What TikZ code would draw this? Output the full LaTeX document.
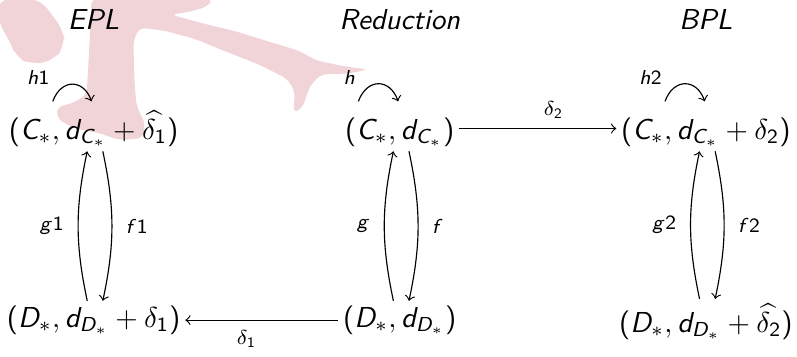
\documentclass[tikz,border=0pt]{standalone}
\usepackage{amsmath}
\usepackage{tikz}
\usetikzlibrary{arrows}

% sans serif letters and digits in the formulas
\DeclareSymbolFont{sfletters}{OT1}{cmss}{m}{sl}
\DeclareSymbolFont{sfdigits}{OT1}{cmss}{m}{n}
\DeclareMathSymbol{C}{\mathalpha}{sfletters}{`C}
\DeclareMathSymbol{D}{\mathalpha}{sfletters}{`D}
\DeclareMathSymbol{d}{\mathalpha}{sfletters}{`d}
\DeclareMathSymbol{f}{\mathalpha}{sfletters}{`f}
\DeclareMathSymbol{g}{\mathalpha}{sfletters}{`g}
\DeclareMathSymbol{h}{\mathalpha}{sfletters}{`h}
\DeclareMathSymbol{1}{\mathalpha}{sfdigits}{`1}
\DeclareMathSymbol{2}{\mathalpha}{sfdigits}{`2}
\DeclareMathSymbol{(}{\mathopen}{sfdigits}{`(}
\DeclareMathSymbol{)}{\mathclose}{sfdigits}{`)}

\definecolor{logopink}{RGB}{240,212,216}

\begin{document}
\begin{tikzpicture}[x=3.729cm,y=2.292cm,
    ttl/.style={font=\sffamily\slshape,anchor=base},
    obj/.style={inner sep=1.5pt,anchor=base},
    hlbl/.style={anchor=south east,inner sep=0pt,xshift=-1pt,yshift=5.5pt}]
  % logo in the background, in pixel units
  \begin{scope}[x=0.345pt,y=-0.345pt,shift={(-94,-328)}]
    \useasboundingbox (0,0) rectangle (797,348);
    \fill[logopink,rounded corners=4pt] (-2,-2) -- (40,-2) -- (52,14)
      -- (64,30) -- (65,45) -- (54,60) -- (32,64) -- (16,57) -- (10,40)
      -- (-2,22) -- cycle;
    \fill[logopink,rounded corners=2pt] (92,-2) -- (214,-2) -- (208,6)
      -- (190,11) -- (172,14) -- (205,23) -- (238,31) -- (270,41)
      -- (300,50) -- (318,60) -- (347,66) -- (370,69) -- (350,73)
      -- (322,74) -- (311,86) -- (304,107) -- (295,113) -- (296,90)
      -- (288,78) -- (260,64) -- (227,51) -- (195,38) -- (165,30)
      -- (140,27) -- (134,40) -- (135,80) -- (137,105) -- (146,124)
      -- (143,138) -- (120,140) -- (100,133) -- (75,128) -- (58,119)
      -- (57,107) -- (75,102) -- (87,94) -- (89,60) -- (91,20) -- cycle;
    \coordinate (h0s) at (53,101);
    \coordinate (h0e) at (92,101);
    \coordinate (h1s) at (360,101);
    \coordinate (h1e) at (400,101);
    \coordinate (h2s) at (668,101);
    \coordinate (h2e) at (708,101);
  \end{scope}
  \node[ttl] (T0) at (0,1.582) {EPL};
  \node[ttl] (T1) at (1,1.582) {Reduction};
  \node[ttl] (T2) at (2,1.582) {BPL};
  \node[obj] (C0) at (0,1) {$(C_*, d_{C_*} + \widehat{\delta_1})$};
  \node[obj] (C1) at (1,1) {$(C_*, d_{C_*})$};
  \node[obj] (C2) at (2,1) {$(C_*, d_{C_*} + \delta_2)$};
  \node[obj] (D0) at (0,0) {$(D_*, d_{D_*} + \delta_1)$};
  \node[obj] (D1) at (1,0) {$(D_*, d_{D_*})$};
  \node[obj] (D2) at (2,-0.026) {$(D_*, d_{D_*} + \widehat{\delta_2})$};
  \path[->,>=to,font=\scriptsize]
    ([yshift=1.2pt]C1.east) edge node[above,pos=0.6]{$\delta_2$} ([yshift=1.2pt]C2.west)
    (D1) edge node[below,pos=0.6]{$\delta_1$} (D0)
    ([xshift=-2.2pt]D0.north) edge[bend left=12] node[left=1.5pt]{$g1$} ([xshift=-2.2pt]C0.south)
    ([xshift=3.2pt]C0.south) edge[bend left=12] node[right=1.3pt]{$f1$} ([xshift=3.2pt]D0.north)
    ([xshift=-2.2pt]D1.north) edge[bend left=12] node[left=1.5pt]{$g$} ([xshift=-2.2pt]C1.south)
    ([xshift=3.2pt]C1.south) edge[bend left=12] node[right=1.3pt]{$f$} ([xshift=3.2pt]D1.north)
    ([xshift=-2.2pt]D2.north) edge[bend left=12] node[left=1.5pt]{$g2$} ([xshift=-2.2pt]C2.south)
    ([xshift=3.2pt]C2.south) edge[bend left=12] node[right=1.3pt]{$f2$} ([xshift=3.2pt]D2.north)
    (h0s) edge[out=70,in=110,looseness=1.6] node[pos=0,hlbl]{$h1$} (h0e)
    (h1s) edge[out=70,in=110,looseness=1.6] node[pos=0,hlbl]{$h$} (h1e)
    (h2s) edge[out=70,in=110,looseness=1.6] node[pos=0,hlbl]{$h2$} (h2e);
\end{tikzpicture}
\end{document}
